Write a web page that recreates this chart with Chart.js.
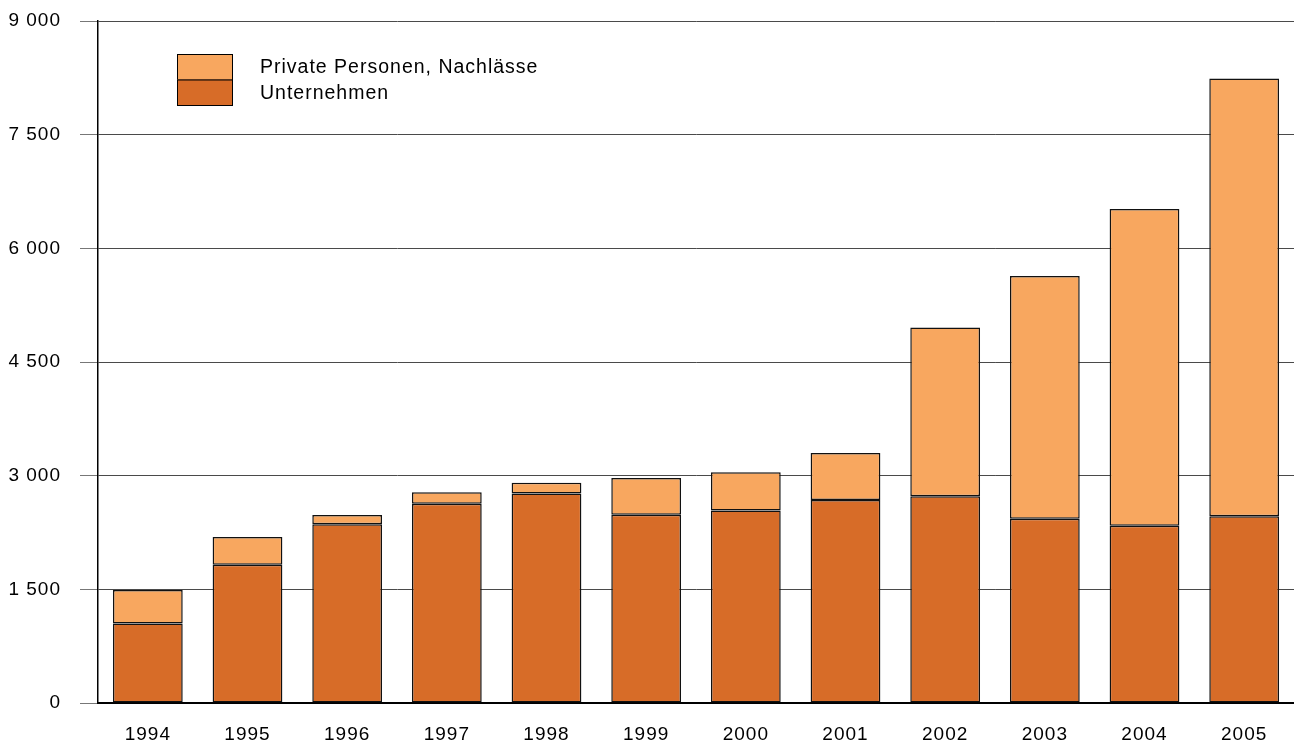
<!DOCTYPE html>
<html>
<head>
<meta charset="utf-8">
<script src="https://cdn.jsdelivr.net/npm/chart.js@4"></script>
<style>
  html, body { margin: 0; padding: 0; background: #fff; }
  #wrap { width: 1294px; height: 743px; }
</style>
</head>
<body>
<div id="wrap"><canvas id="myChart" width="1294" height="743"></canvas></div>
<script>
// Jahre und Werte (gestapelt)
const years = ['1994', '1995', '1996', '1997', '1998', '1999', '2000', '2001', '2002', '2003', '2004', '2005'];
const unternehmen = [1050, 1825, 2360, 2630, 2765, 2485, 2540, 2680, 2730, 2430, 2340, 2465];
const privatePersonen = [440, 365, 120, 150, 140, 485, 505, 620, 2225, 3205, 4180, 5775];
const yTicks = [0, 1500, 3000, 4500, 6000, 7500, 9000];

const darkOrange = '#D76C28';
const lightOrange = '#F8A75F';
const fontFamily = '"Liberation Sans", Arial, sans-serif';

function fmt(v) {
    return String(v).replace(/\B(?=(\d{3})+(?!\d))/g, ' ');
}

// Legende oben links im Diagramm
const boxLegend = {
    id: 'boxLegend',
    beforeDraw(chart) {
        chart.ctx.letterSpacing = '1px';
    },
    afterDraw(chart) {
        const ctx = chart.ctx;
        const items = [chart.data.datasets[1], chart.data.datasets[0]];
        const x = 177, y = 54, w = 55, h = 25.5;
        ctx.save();
        ctx.letterSpacing = '1px';
        items.forEach((ds, i) => {
            ctx.fillStyle = ds.backgroundColor;
            ctx.fillRect(x, y + i * h, w, h);
            ctx.strokeStyle = '#000';
            ctx.lineWidth = 1;
            ctx.strokeRect(x + 0.5, y + i * h + 0.5, w, h);
            ctx.fillStyle = '#000';
            ctx.font = '19.5px ' + fontFamily;
            ctx.textBaseline = 'middle';
            ctx.textAlign = 'left';
            ctx.fillText(ds.label, 260, y + 14 + i * h);
        });
        ctx.restore();
    }
};

new Chart(document.getElementById('myChart').getContext('2d'), {
    type: 'bar',
    data: {
        labels: years,
        datasets: [
            {
                label: 'Unternehmen',
                data: unternehmen,
                backgroundColor: darkOrange,
                borderColor: '#111',
                borderWidth: 1.5,
                borderSkipped: false,
                barPercentage: 0.7,
                categoryPercentage: 1
            },
            {
                label: 'Private Personen, Nachlässe',
                data: privatePersonen,
                backgroundColor: lightOrange,
                borderColor: '#111',
                borderWidth: 1.5,
                borderSkipped: false,
                barPercentage: 0.7,
                categoryPercentage: 1
            }
        ]
    },
    options: {
        responsive: false,
        animation: false,
        layout: { padding: { top: 21, right: 0, bottom: 0, left: 0 } },
        plugins: {
            legend: { display: false },
            tooltip: { enabled: false }
        },
        scales: {
            x: {
                stacked: true,
                grid: { display: false, drawTicks: false },
                border: { display: true, color: '#000', width: 2 },
                afterFit(scale) {
                    scale.height = 40;
                },
                ticks: {
                    color: '#000',
                    padding: 20,
                    font: { family: fontFamily, size: 19 }
                }
            },
            y: {
                stacked: true,
                min: 0,
                max: 9000,
                afterBuildTicks(scale) {
                    scale.ticks = yTicks.map(v => ({ value: v }));
                },
                afterFit(scale) {
                    scale.width = 98;
                    scale.paddingTop = 0;
                    scale.paddingBottom = 0;
                },
                grid: {
                    color: '#4a4a4a',
                    lineWidth: 1,
                    tickLength: 18,
                    tickColor: '#777'
                },
                border: { display: true, color: '#000', width: 1.5 },
                ticks: {
                    color: '#000',
                    padding: 19,
                    font: { family: fontFamily, size: 19 },
                    callback: v => fmt(v)
                }
            }
        }
    },
    plugins: [boxLegend]
});
</script>
</body>
</html>
